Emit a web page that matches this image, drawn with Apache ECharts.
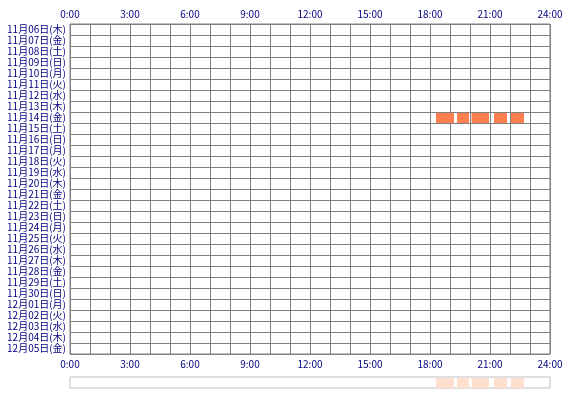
<!DOCTYPE html>
<html>
<head>
<meta charset="utf-8">
<script src="https://cdn.jsdelivr.net/npm/echarts@6/dist/echarts.min.js"></script>
<style>html,body{margin:0;padding:0;background:#fff;}#c{width:570px;height:400px;}</style>
</head>
<body>
<div id="c"></div>
<script>
const days = ['11月06日(木)','11月07日(金)','11月08日(土)','11月09日(日)','11月10日(月)','11月11日(火)','11月12日(水)','11月13日(木)','11月14日(金)','11月15日(土)','11月16日(日)','11月17日(月)','11月18日(火)','11月19日(水)','11月20日(木)','11月21日(金)','11月22日(土)','11月23日(日)','11月24日(月)','11月25日(火)','11月26日(水)','11月27日(木)','11月28日(金)','11月29日(土)','11月30日(日)','12月01日(月)','12月02日(火)','12月03日(水)','12月04日(木)','12月05日(金)'];
const hourTicks = ['0:00','3:00','6:00','9:00','12:00','15:00','18:00','21:00','24:00'];
const sessionDay = ['11月14日(金)','11月14日(金)','11月14日(金)','11月14日(金)','11月14日(金)'];
const sessionStart = [18.3, 19.35, 20.08, 21.2, 22.05];
const sessionEnd = [19.2, 19.95, 20.95, 21.85, 22.7];

const chart = echarts.init(document.getElementById('c'));
const font = '"Noto Sans CJK JP", sans-serif';
const navy = '#000080';
const labelFmt = v => (v % 3 === 0 ? hourTicks[v / 3] : '');

const barData = sessionStart.map((s, i) => [s, sessionEnd[i], days.indexOf(sessionDay[i])]);
const tlData = sessionStart.map((s, i) => [s, sessionEnd[i]]);

function rowItem(params, api) {
  const s = api.coord([api.value(0), api.value(2)]);
  const e = api.coord([api.value(1), api.value(2)]);
  const h = api.size([0, 1])[1];
  return {
    type: 'rect',
    shape: { x: s[0], y: s[1] - h / 2 + 1, width: e[0] - s[0], height: h - 1 },
    style: { fill: '#FF7F50' }
  };
}
function tlItem(params, api) {
  const s = api.coord([api.value(0), 0]);
  const e = api.coord([api.value(1), 0]);
  const cs = params.coordSys;
  return {
    type: 'rect',
    shape: { x: s[0], y: cs.y + 1, width: e[0] - s[0], height: cs.height - 1 },
    style: { fill: '#FFE0CF' }
  };
}

const xBase = {
  type: 'value', min: 0, max: 24, interval: 1,
  axisLine: { show: false }, axisTick: { show: false },
  axisLabel: { formatter: labelFmt, color: navy, fontSize: 10, fontFamily: font, margin: 5, showMinLabel: true, showMaxLabel: true },
};

chart.setOption({
  animation: false,
  grid: [
    { left: 70, right: 20, top: 24, height: 330, show: true, borderColor: '#808080', borderWidth: 1 },
    { left: 70, right: 20, top: 377, height: 11, show: true, borderColor: '#c0c0c0', borderWidth: 1, backgroundColor: '#fff' }
  ],
  xAxis: [
    Object.assign({}, xBase, { gridIndex: 0, position: 'top', splitLine: { show: true, lineStyle: { color: '#808080', width: 1 } } }),
    Object.assign({}, xBase, { gridIndex: 0, position: 'bottom', splitLine: { show: false } }),
    { type: 'value', gridIndex: 1, min: 0, max: 24, show: false }
  ],
  yAxis: [
    {
      type: 'category', gridIndex: 0, data: days, inverse: true,
      axisLine: { show: false }, axisTick: { show: false },
      axisLabel: { color: navy, fontSize: 10, fontFamily: font, margin: 4, interval: 0 },
      splitLine: { show: true, interval: 0, lineStyle: { color: '#808080', width: 1 } }
    },
    { type: 'value', gridIndex: 1, min: 0, max: 1, show: false }
  ],
  series: [
    { type: 'custom', xAxisIndex: 0, yAxisIndex: 0, renderItem: rowItem, data: barData, encode: { x: [0, 1], y: 2 } },
    { type: 'custom', xAxisIndex: 2, yAxisIndex: 1, renderItem: tlItem, data: tlData, encode: { x: [0, 1] } }
  ]
});
</script>
</body>
</html>
